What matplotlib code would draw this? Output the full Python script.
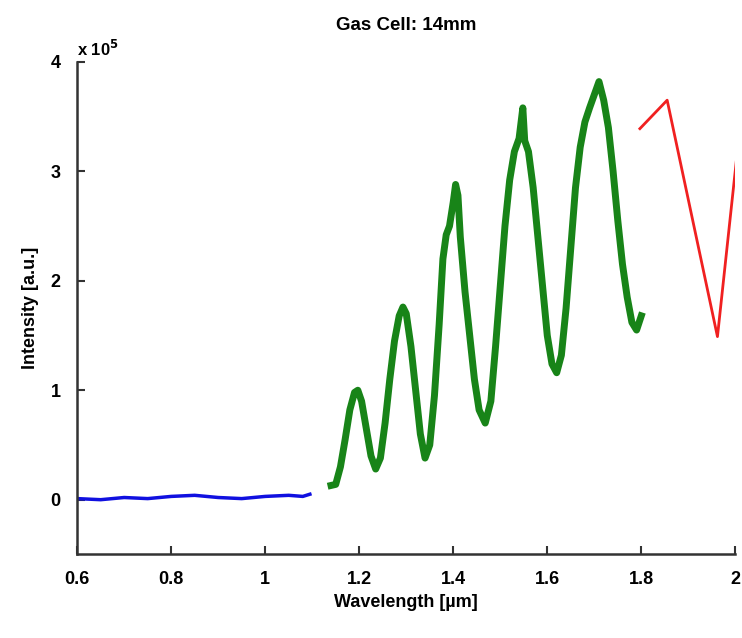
import matplotlib.pyplot as plt
import numpy as np

plt.rcParams['font.family'] = ['Liberation Sans', 'DejaVu Sans']
plt.rcParams['font.weight'] = 'bold'

# Данные (интенсивность в единицах 1e5)
blue_x = [0.60, 0.65, 0.70, 0.75, 0.80, 0.85, 0.90, 0.95, 1.00, 1.05, 1.08, 1.095]
blue_y = [0.01, 0.00, 0.02, 0.01, 0.03, 0.04, 0.02, 0.01, 0.03, 0.04, 0.03, 0.05]

green_x = [1.140, 1.150, 1.160, 1.170, 1.180, 1.190, 1.197, 1.205, 1.215, 1.225,
           1.235, 1.245, 1.255, 1.265, 1.275, 1.285, 1.293, 1.300, 1.310, 1.320,
           1.330, 1.340, 1.350, 1.360, 1.370, 1.378, 1.385, 1.392, 1.400, 1.405,
           1.410, 1.415, 1.425, 1.435, 1.445, 1.455, 1.468, 1.480, 1.490, 1.500,
           1.510, 1.520, 1.530, 1.540, 1.548, 1.552, 1.560, 1.570, 1.580, 1.590,
           1.600, 1.610, 1.620, 1.630, 1.640, 1.650, 1.660, 1.670, 1.680, 1.690,
           1.700, 1.710, 1.720, 1.730, 1.740, 1.750, 1.760, 1.770, 1.780, 1.790,
           1.800]
green_y = [0.13, 0.14, 0.30, 0.55, 0.82, 0.98, 1.00, 0.90, 0.65, 0.40,
           0.28, 0.38, 0.70, 1.10, 1.45, 1.68, 1.76, 1.70, 1.40, 1.00,
           0.60, 0.38, 0.50, 0.95, 1.60, 2.20, 2.42, 2.50, 2.72, 2.88,
           2.78, 2.40, 1.90, 1.50, 1.10, 0.82, 0.70, 0.90, 1.40, 1.95,
           2.50, 2.92, 3.18, 3.30, 3.58, 3.28, 3.18, 2.85, 2.40, 1.95,
           1.50, 1.24, 1.16, 1.32, 1.75, 2.30, 2.85, 3.22, 3.45, 3.58,
           3.70, 3.82, 3.65, 3.40, 3.00, 2.55, 2.15, 1.85, 1.62, 1.55,
           1.68]

red_x = [1.797, 1.855, 1.962, 2.004]
red_y = [3.39, 3.65, 1.49, 3.17]

fig = plt.figure(figsize=(7.42, 6.38), dpi=100)
ax = fig.add_axes([0.104, 0.131, 0.887, 0.772])

ax.plot(blue_x, blue_y, color='#1010e0', lw=2.5)
ax.plot(green_x, green_y, color='#188418', lw=5, solid_joinstyle='round')
ax.plot(red_x, red_y, color='#f02020', lw=2, clip_on=True)

ax.set_xlim(0.6, 2.0)
ax.set_ylim(-0.5, 4)
ax.set_xticks([0.6, 0.8, 1.0, 1.2, 1.4, 1.6, 1.8, 2.0])
ax.set_xticklabels(['0.6', '0.8', '1', '1.2', '1.4', '1.6', '1.8', '2'])
ax.set_yticks([0, 1, 2, 3, 4])
ax.set_yticklabels(['0', '1', '2', '3', '4'])

for s in ['top', 'right']:
    ax.spines[s].set_visible(False)
for s in ['left', 'bottom']:
    ax.spines[s].set_linewidth(1.8)
    ax.spines[s].set_color('#333333')
ax.tick_params(direction='in', length=6, width=1.5, labelsize=13, color='#333333', pad=12)

ax.set_xlabel('Wavelength [µm]', fontsize=13, fontweight='bold')
ax.set_ylabel('Intensity [a.u.]', fontsize=13, fontweight='bold', labelpad=8)
ax.set_title('Gas Cell: 14mm', fontsize=13.5, fontweight='bold', pad=23)
ax.text(0.0, 1.005, r'x 10$^{5}$', transform=ax.transAxes, fontsize=12, fontweight='bold',
        ha='left', va='bottom')

plt.savefig('out.png', dpi=100)
